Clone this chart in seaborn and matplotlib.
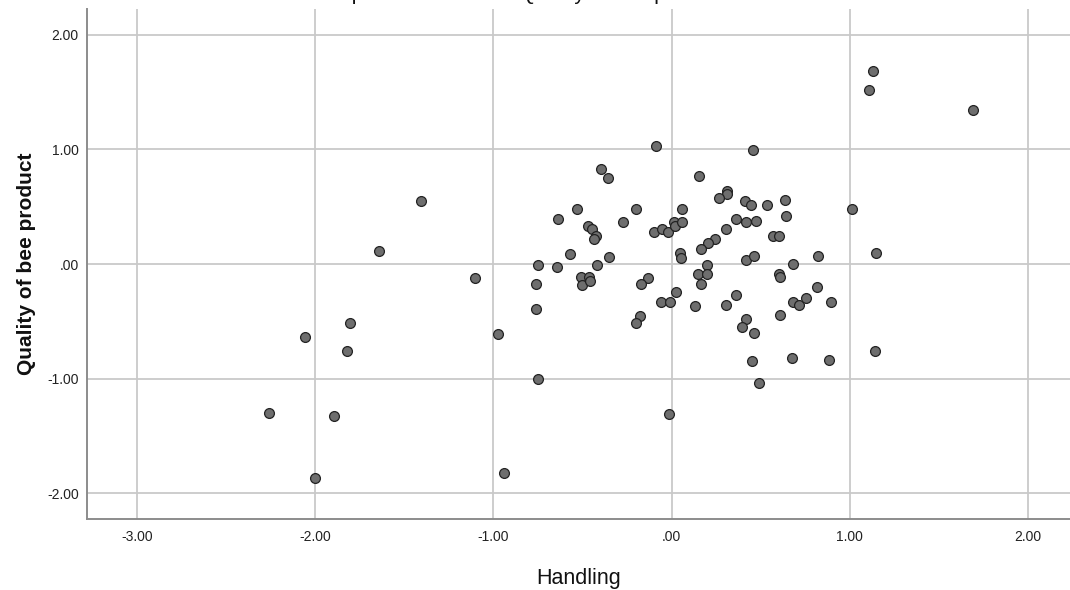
import pandas as pd
import numpy as np
import matplotlib
matplotlib.use('Agg')
import matplotlib.pyplot as plt
import seaborn as sns

# partial regression residuals
handling = [-0.089, 0.458, -0.398, -0.357, 0.152, 0.309, 0.313, 0.268, 0.412, 0.446,
            0.537, 0.635, 0.642, -0.533, -0.198, 0.060, -0.639, -0.274, -0.467, -0.448,
            -0.424, -0.435, -0.097, -0.056, -0.019, 0.012, 0.019, 0.060, 0.360, 0.307,
            0.418, 0.475, 0.245, 0.206, 0.165, 0.571, 0.601, 1.012, -0.570, -0.353,
            -0.419, -0.750, -0.645, 0.049, 0.054, 0.419, 0.462, 0.681, 0.822, 1.147,
            0.200, 0.148, 0.197, 0.163, 0.604, 0.607, -0.510, -0.462, -0.503, -0.458,
            -0.131, -0.170, -0.761, 0.023, -0.059, -0.009, 0.131, 0.307, 0.360, 0.814,
            0.680, 0.715, 0.753, 0.893, -0.761, -0.177, -0.200, 0.416, 0.397, 0.461,
            0.607, -0.973, 0.449, 0.674, 0.883, 1.143, -0.750, 0.492, -0.015,
            -1.407, -1.644, -1.102, -1.805, -2.057, -1.820, -2.259, -1.893, -2.001, -0.942,
            1.128, 1.109, 1.691]
quality = [1.031, 0.996, 0.830, 0.754, 0.769, 0.640, 0.609, 0.579, 0.548, 0.518,
           0.518, 0.556, 0.422, 0.483, 0.483, 0.480, 0.390, 0.367, 0.329, 0.308,
           0.245, 0.216, 0.277, 0.306, 0.277, 0.364, 0.332, 0.367, 0.393, 0.308,
           0.367, 0.378, 0.216, 0.181, 0.128, 0.245, 0.245, 0.483, 0.090, 0.059,
           -0.006, -0.006, -0.026, 0.093, 0.055, 0.038, 0.067, 0.000, 0.070, 0.099,
           -0.006, -0.090, -0.090, -0.177, -0.085, -0.116, -0.114, -0.114, -0.181, -0.151,
           -0.120, -0.177, -0.175, -0.247, -0.334, -0.334, -0.369, -0.361, -0.273, -0.203,
           -0.332, -0.355, -0.300, -0.334, -0.396, -0.452, -0.515, -0.483, -0.550, -0.603,
           -0.448, -0.609, -0.845, -0.824, -0.838, -0.757, -1.004, -1.037, -1.310,
           0.553, 0.116, -0.120, -0.513, -0.640, -0.757, -1.299, -1.325, -1.866, -1.828,
           1.686, 1.520, 1.345]

xticks = [-3, -2, -1, 0, 1, 2]
yticks = [-2, -1, 0, 1, 2]
xticklabels = ['-3.00', '-2.00', '-1.00', '.00', '1.00', '2.00']
yticklabels = ['-2.00', '-1.00', '.00', '1.00', '2.00']

df = pd.DataFrame({'Handling': handling, 'Quality': quality})

sns.set_style('white')
plt.rcParams['font.family'] = ['Liberation Sans', 'DejaVu Sans']

fig = plt.figure(figsize=(10.7, 5.9), dpi=100)
ax = fig.add_axes([87/1070, 71/590, (1070-87)/1070, (519-9)/590])

sns.scatterplot(data=df, x='Handling', y='Quality', ax=ax, s=50,
                color='#6e6e6e', edgecolor='#222222', linewidth=0.9, zorder=3)

ax.set_xlim(-3.281, 2.236)
ax.set_ylim(-2.227, 2.227)
ax.set_xticks(xticks)
ax.set_xticklabels(xticklabels)
ax.set_yticks(yticks)
ax.set_yticklabels(yticklabels)
ax.grid(True, color='#c9c9c9', linewidth=1.3, zorder=0)
ax.set_axisbelow(True)
ax.tick_params(length=0, labelsize=10, colors='#222222')
ax.tick_params(axis='x', pad=8)
ax.tick_params(axis='y', pad=6)
for side in ['top', 'right']:
    ax.spines[side].set_visible(False)
for side in ['left', 'bottom']:
    ax.spines[side].set_color('#8c8c8c')
    ax.spines[side].set_linewidth(1.4)

ax.set_xlabel('Handling', fontsize=15.5, labelpad=17, color='#111111')
ax.set_ylabel('Quality of bee product', fontsize=15, fontweight='bold', labelpad=8, color='#111111')

# title sits mostly above the visible area, only descenders show
fig.text(0.49, 1.0005, 'Dependent Variable: Quality of bee product', ha='center',
         va='baseline', fontsize=15, color='#111111')

plt.savefig('out.png', dpi=100)
